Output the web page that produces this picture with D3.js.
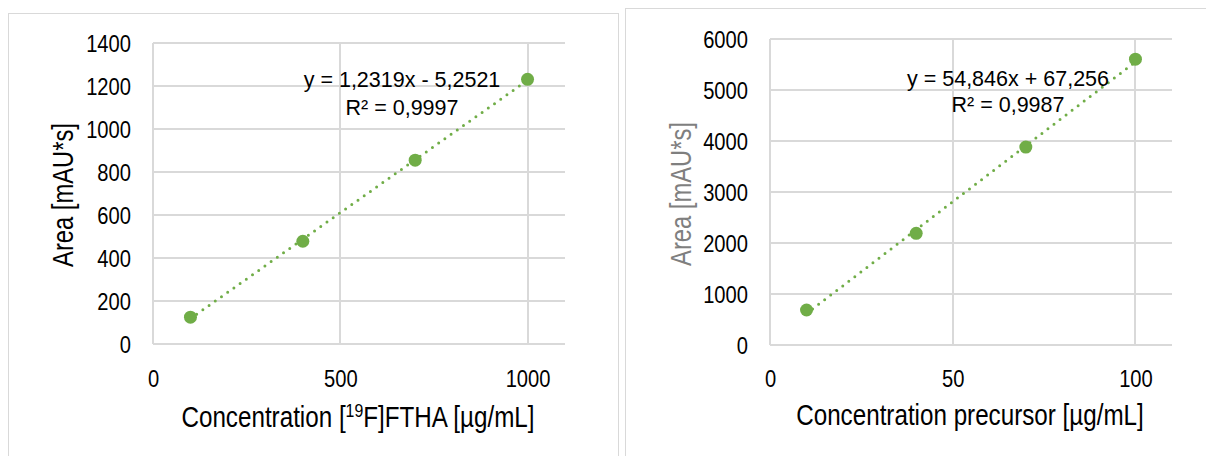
<!DOCTYPE html>
<html>
<head>
<meta charset="utf-8">
<script src="https://cdn.jsdelivr.net/npm/d3@7"></script>
<style>
  body { margin: 0; background: #fff; }
  svg text { font-family: "Liberation Sans", Arial, sans-serif; }
</style>
</head>
<body>
<script>
// data
var fthaConc = [100, 400, 700, 1000];
var fthaArea = [125, 478, 855, 1231];
var fthaTrend = [1.2319, -5.2521];
var fthaXTicks = [0, 500, 1000];
var fthaYTicks = [0, 200, 400, 600, 800, 1000, 1200, 1400];

var precConc = [10, 40, 70, 100];
var precArea = [686, 2190, 3880, 5605];
var precTrend = [54.846, 67.256];
var precXTicks = [0, 50, 100];
var precYTicks = [0, 1000, 2000, 3000, 4000, 5000, 6000];

var green = "#70ad47";
var grid = "#d9d9d9";
var narrow = 0.84;   // the chart font is a condensed one

var svg = d3.select("body").append("svg").attr("width", 1206).attr("height", 456);

// panel borders
svg.append("rect").attr("x", 8.5).attr("y", 13.5).attr("width", 610).attr("height", 460)
  .attr("fill", "none").attr("stroke", grid);
svg.append("rect").attr("x", 625.5).attr("y", 8.5).attr("width", 600).attr("height", 460)
  .attr("fill", "none").attr("stroke", grid);

function drawChart(o) {
  var x = d3.scaleLinear().domain(o.xDomain).range([o.left, o.right]);
  var y = d3.scaleLinear().domain(o.yDomain).range([o.bottom, o.top]);
  var g = svg.append("g");

  // gridlines
  g.append("g").selectAll("line").data(o.yTicks).enter().append("line")
    .attr("x1", o.left).attr("x2", o.right)
    .attr("y1", d => Math.round(y(d))).attr("y2", d => Math.round(y(d)))
    .attr("stroke", grid).attr("stroke-width", 2);
  g.append("g").selectAll("line").data(o.xTicks).enter().append("line")
    .attr("y1", o.top).attr("y2", o.bottom)
    .attr("x1", d => Math.round(x(d))).attr("x2", d => Math.round(x(d)))
    .attr("stroke", grid).attr("stroke-width", 2);

  // axes (labels only)
  var ya = g.append("g").attr("transform", `translate(${o.yLabelRight},0)`)
    .call(d3.axisLeft(y).tickValues(o.yTicks).tickFormat(d3.format("d")).tickSize(0).tickPadding(0));
  ya.select(".domain").remove();
  ya.selectAll("text").style("font-size", "24px").attr("fill", "#000")
    .attr("dy", "0.36em").attr("transform", `scale(${narrow},1)`);

  var xa = g.append("g").attr("transform", `translate(0,${o.xLabelBase})`)
    .call(d3.axisBottom(x).tickValues(o.xTicks).tickFormat(d3.format("d")).tickSize(0).tickPadding(0));
  xa.select(".domain").remove();
  xa.selectAll("text").style("font-size", "24px").attr("fill", "#000")
    .attr("dy", 0).attr("transform", `scale(${narrow},1)`);

  // trendline
  var x0 = d3.min(o.xs), x1 = d3.max(o.xs);
  g.append("line")
    .attr("x1", x(x0)).attr("y1", y(o.trend[0] * x0 + o.trend[1]))
    .attr("x2", x(x1)).attr("y2", y(o.trend[0] * x1 + o.trend[1]))
    .attr("stroke", green).attr("stroke-width", 3)
    .attr("stroke-linecap", "round").attr("stroke-dasharray", "0,7.6");

  // points
  g.append("g").selectAll("circle").data(o.xs).enter().append("circle")
    .attr("cx", d => x(d)).attr("cy", (d, i) => y(o.ys[i]))
    .attr("r", 6.5).attr("fill", green);

  // equation
  var eq = g.append("text").style("font-size", "21.5px").attr("fill", "#000").attr("text-anchor", "middle");
  eq.append("tspan").attr("x", o.eqX).attr("y", o.eqY).text(o.eq1);
  eq.append("tspan").attr("x", o.eqX).attr("y", o.eqY2).text(o.eq2);

  // axis titles
  g.append("text").attr("transform", `translate(${o.yTitleX},${o.yTitleY}) rotate(-90) scale(0.82,1)`)
    .attr("text-anchor", "middle").style("font-size", "29px").attr("fill", o.yTitleColor)
    .text("Area [mAU*s]");
  var xt = g.append("text").attr("transform", `translate(${o.xTitleX},${o.xTitleY}) scale(0.835,1)`)
    .attr("text-anchor", "middle").style("font-size", "29px").attr("fill", "#000");
  o.xTitle(xt);
}

drawChart({
  xs: fthaConc, ys: fthaArea, trend: fthaTrend,
  xDomain: [0, 1100], yDomain: [0, 1400],
  xTicks: fthaXTicks, yTicks: fthaYTicks,
  left: 153, right: 565, top: 43, bottom: 344,
  yLabelRight: 131, xLabelBase: 387,
  eq1: "y = 1,2319x - 5,2521", eq2: "R² = 0,9997",
  eqX: 402, eqY: 87, eqY2: 115,
  yTitleX: 73, yTitleY: 195, yTitleColor: "#000",
  xTitleX: 358, xTitleY: 427,
  xTitle: function (t) {
    t.append("tspan").text("Concentration [");
    t.append("tspan").style("font-size", "19px").attr("dy", -10).text("19");
    t.append("tspan").attr("dy", 10).text("F]FTHA [µg/mL]");
  }
});

drawChart({
  xs: precConc, ys: precArea, trend: precTrend,
  xDomain: [0, 110], yDomain: [0, 6000],
  xTicks: precXTicks, yTicks: precYTicks,
  left: 770, right: 1172, top: 39, bottom: 345,
  yLabelRight: 748, xLabelBase: 387,
  eq1: "y = 54,846x + 67,256", eq2: "R² = 0,9987",
  eqX: 1008, eqY: 86, eqY2: 112,
  yTitleX: 691, yTitleY: 194, yTitleColor: "#7f7f7f",
  xTitleX: 970, xTitleY: 425,
  xTitle: function (t) { t.text("Concentration precursor [µg/mL]"); }
});
</script>
</body>
</html>
